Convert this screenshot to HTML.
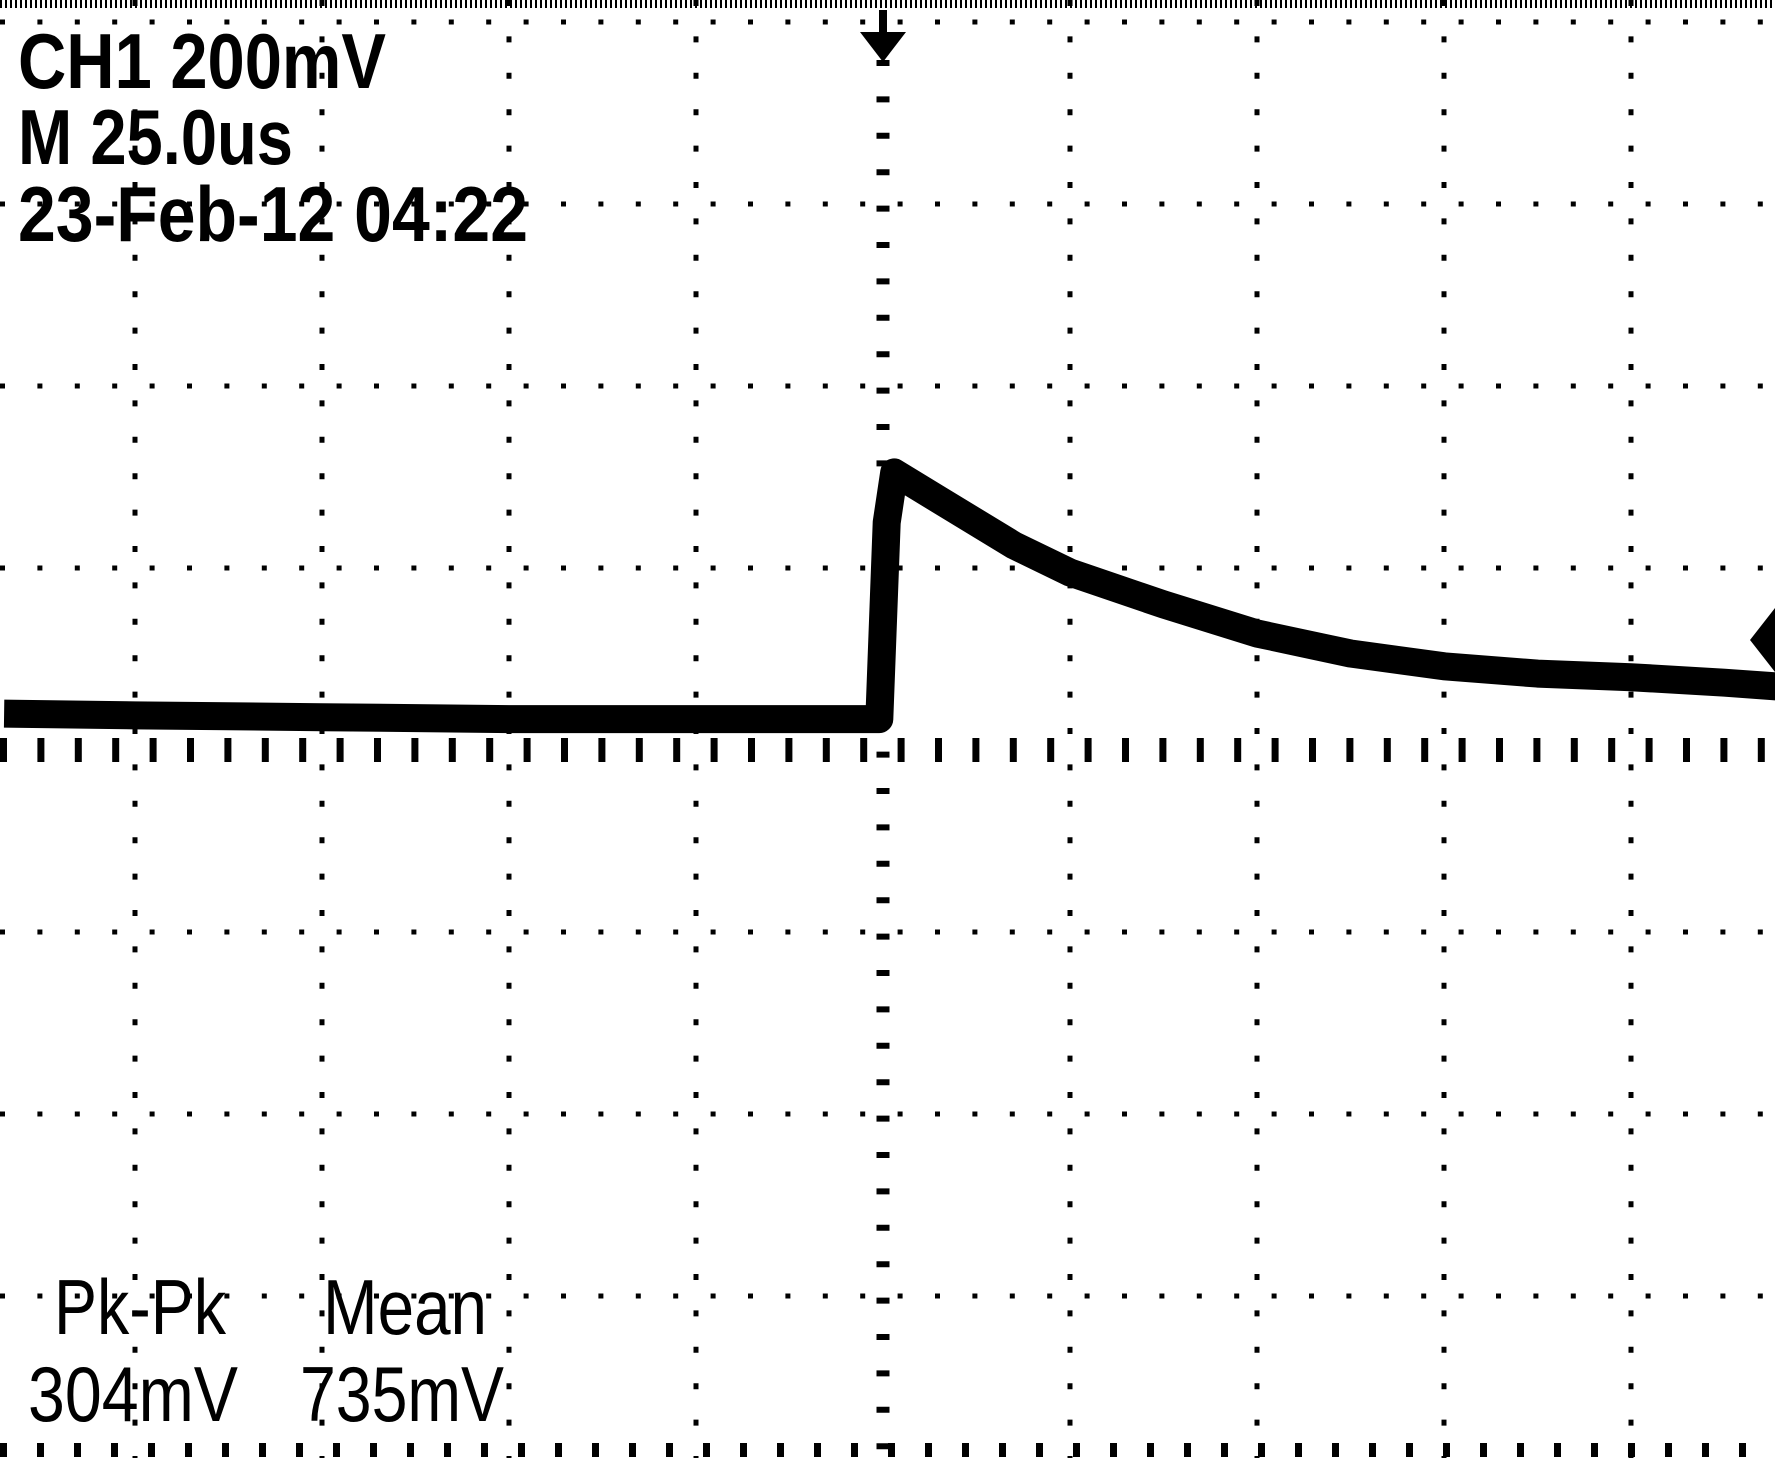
<!DOCTYPE html>
<html><head><meta charset="utf-8"><style>
html,body{margin:0;padding:0;background:#fff;}
svg{display:block;}
text{font-family:"Liberation Sans",sans-serif;fill:#000;}
</style></head><body>
<svg id="scope" width="1775" height="1458" viewBox="0 0 1775 1458" xmlns="http://www.w3.org/2000/svg">
<rect width="1775" height="1458" fill="#fff"/>
<g id="grid"></g>
<path id="trace" fill="none" stroke="#000" stroke-width="28" stroke-linejoin="round"/>
<g><rect x="879" y="10" width="8" height="30" fill="#000"/><polygon points="860,32 906,32 883,62" fill="#000"/></g>
<polygon points="1775,608 1750,640 1775,672" fill="#000"/>
<text x="18" y="88" font-size="78" font-weight="bold" textLength="368" lengthAdjust="spacingAndGlyphs">CH1  200mV</text>
<text x="18" y="164" font-size="78" font-weight="bold" textLength="275" lengthAdjust="spacingAndGlyphs">M 25.0us</text>
<text x="18" y="241" font-size="78" font-weight="bold" textLength="510" lengthAdjust="spacingAndGlyphs">23-Feb-12 04:22</text>
<text x="54" y="1334" font-size="78" textLength="172" lengthAdjust="spacingAndGlyphs">Pk-Pk</text>
<text x="323" y="1334" font-size="78" textLength="164" lengthAdjust="spacingAndGlyphs">Mean</text>
<text x="28" y="1421" font-size="78" textLength="210" lengthAdjust="spacingAndGlyphs">304mV</text>
<text x="300" y="1421" font-size="78" textLength="204" lengthAdjust="spacingAndGlyphs">735mV</text>
</svg>
<script>
// time in divisions relative to trigger (center), voltage in mV (200 mV/div)
const times = [-4.7,-4,-3,-2,-1,-0.02,0.02,0.06,0.3,0.7,1,1.5,2,2.5,3,3.5,4,4.5,4.9];
const volts = [40,38,36,34,34,34,250,305,275,225,195,160,128,106,92,84,80,74,68];
const cx=883, cy=750, dx=187, dy=182, mvPerDiv=200;
function X(t){return cx+t*dx;}
function Y(v){return cy-(v/mvPerDiv)*dy;}
const NS="http://www.w3.org/2000/svg";
const g=document.getElementById('grid');
function line(x1,y1,x2,y2,w,dash,name){
  const l=document.createElementNS(NS,'line');
  l.setAttribute('x1',x1);l.setAttribute('y1',y1);l.setAttribute('x2',x2);l.setAttribute('y2',y2);
  l.setAttribute('stroke','#000');l.setAttribute('stroke-width',w);l.setAttribute('stroke-dasharray',dash);
  
  
  g.appendChild(l);
}
for(let k=-5;k<=5;k++){ if(k===0)continue; const x=X(k); line(x,0,x,1458,5,"6 30.4",'vertical-grid-line');}
for(let k=-4;k<=4;k++){ if(k===0)continue; const y=cy+k*dy; line(0,y,1775,y,5,"5 32.4",'horizontal-grid-line');}
line(cx,60,cx,1458,13,"6 30.4",'vertical-center-axis');
line(0,cy,1775,cy,24,"7 30.4",'horizontal-center-axis');
line(0,4,1775,4,8,"2 3",'top-border');
line(0,1450,1775,1450,14,"7 30",'bottom-border');
let d='';
times.forEach((t,i)=>{d+=(i?'L':'M')+X(t).toFixed(1)+','+Y(volts[i]).toFixed(1);});
document.getElementById('trace').setAttribute('d',d);
</script>
</body></html>
